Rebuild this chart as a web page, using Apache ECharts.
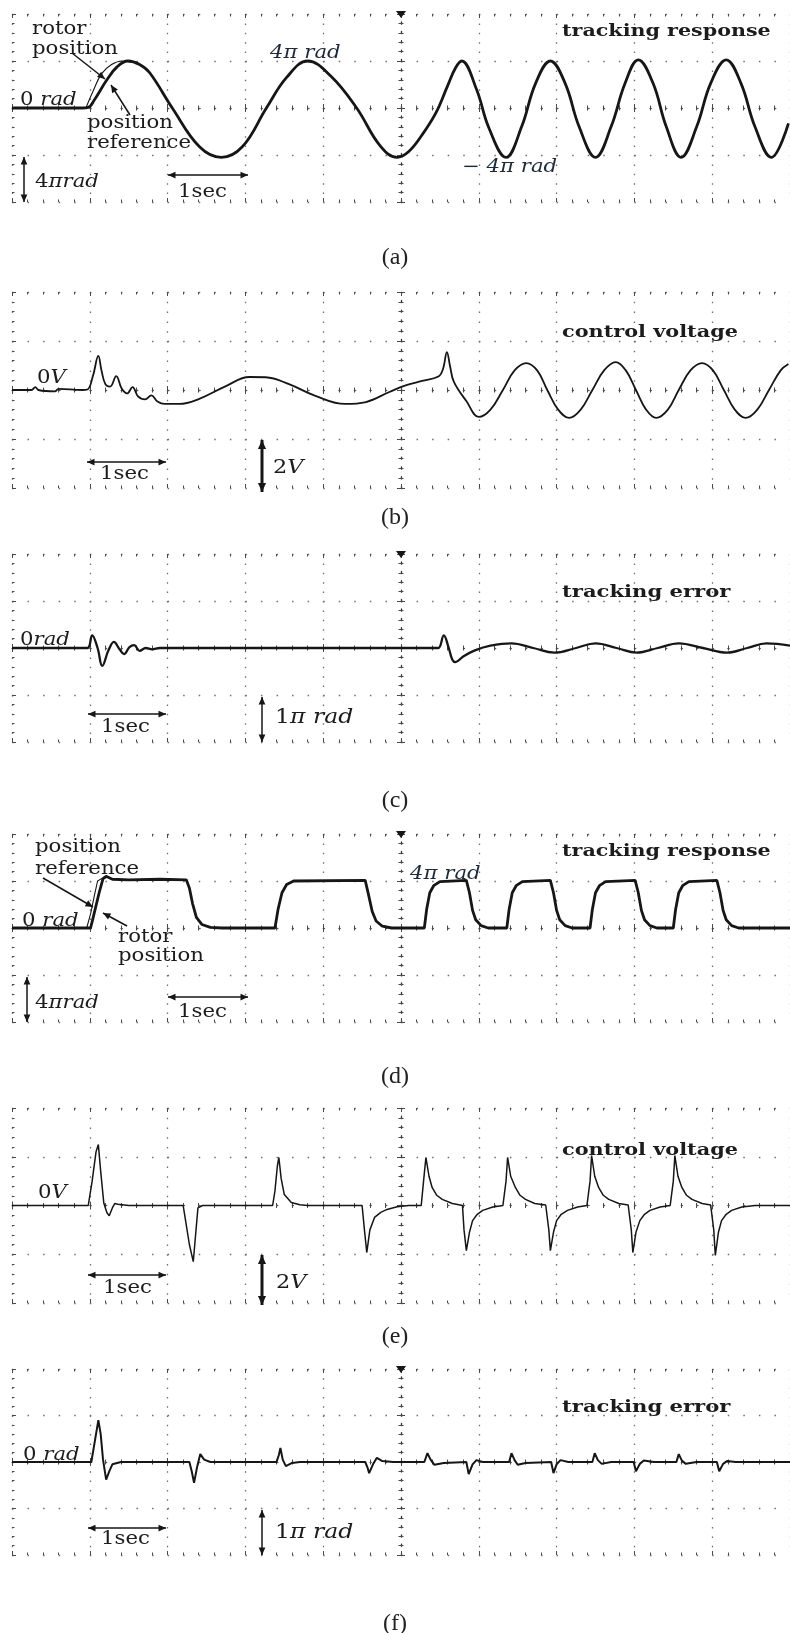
<!DOCTYPE html>
<html lang="en">
<head>
    <meta charset="UTF-8">
    <title>tracking response / control voltage / tracking error</title>
    <style>
        html, body { margin: 0; padding: 0; background: #fff; }
        #scope { width: 790px; height: 1633px; }
    </style>
</head>
<body>
<div id="scope"></div>
<script src="https://cdn.jsdelivr.net/npm/echarts@6.0.0/dist/echarts.min.js"></script>
<script>
    // time in sec measured from the screen centre, 1 sec / division
    var timeTicks = [-5, -4, -3, -2, -1, 0, 1, 2, 3, 4, 5];

    // vertical full scale (+/-) of each trace, 2 divisions each side
    var fullScale = {pos: 8, volt: 4, err: 2};   // pi rad, V, pi rad

    // (a) sinusoidal reference - rotor position [sec, pi rad]
    var sineRotor = [[-5, 0], [-4.3, 0], [-4.1, 0], [-4.02, 0.05], [-3.94, 0.7], [-3.78, 2.4], [-3.65, 3.5], [-3.51, 4.0],
        [-3.36, 3.7], [-3.23, 3.0], [-2.94, 0], [-2.59, -3.3], [-2.31, -4.2], [-2.04, -3.3], [-1.73, 0], [-1.47, 2.6],
        [-1.2, 4.0], [-0.9, 2.7], [-0.57, 0], [-0.27, -3.2], [-0.05, -4.2], [0.1, -3.7], [0.27, -2.3], [0.45, -0.4],
        [0.6, 1.9], [0.7, 3.4], [0.78, 4.0], [0.97, 1.6], [1.13, -1.7], [1.35, -4.2], [1.55, -1.6], [1.73, 2.1], [1.92, 4.0],
        [2.11, 2.1], [2.29, -1.6], [2.5, -4.2], [2.7, -1.6], [2.88, 2.1], [3.05, 4.1], [3.24, 2.1], [3.41, -1.6],
        [3.6, -4.2], [3.8, -1.6], [3.98, 2.1], [4.18, 4.1], [4.37, 2.1], [4.55, -1.6], [4.76, -4.2], [4.98, -1.3]];
    // (a) position reference, only visible where it leaves the rotor trace
    var sineRef = [[-4.05, 0], [-3.96, 1.4], [-3.85, 2.9], [-3.72, 3.7], [-3.58, 4.0], [-3.47, 3.9]];

    // (b) control voltage [sec, V]
    var sineVoltage = [[-5, 0], [-4.75, 0], [-4.7, 0.12], [-4.66, 0], [-4.45, -0.06], [-4.4, 0.05], [-4.1, 0], [-4.03, 0.02],
        [-3.96, 0.57], [-3.89, 1.39], [-3.85, 0.8], [-3.8, 0.24], [-3.74, 0.14], [-3.66, 0.57], [-3.59, 0.06], [-3.52, -0.14],
        [-3.45, 0.12], [-3.38, -0.26], [-3.29, -0.38], [-3.21, -0.22], [-3.13, -0.47], [-3.04, -0.57], [-2.85, -0.57],
        [-2.6, -0.37], [-2.25, 0.16], [-1.95, 0.53], [-1.74, 0.52], [-1.44, 0.24], [-1.1, -0.24], [-0.72, -0.57],
        [-0.45, -0.49], [-0.15, -0.08], [0.05, 0.18], [0.27, 0.37], [0.48, 0.55], [0.54, 0.86], [0.59, 1.55], [0.63, 0.98],
        [0.68, 0.33], [0.84, -0.45], [1.0, -1.1], [1.15, -0.8], [1.31, 0], [1.46, 0.8], [1.61, 1.1], [1.75, 0.8], [1.88, 0],
        [2.02, -0.8], [2.16, -1.14], [2.31, -0.8], [2.46, 0], [2.61, 0.8], [2.76, 1.14], [2.89, 0.8], [3.02, 0],
        [3.15, -0.8], [3.28, -1.14], [3.43, -0.8], [3.57, 0], [3.72, 0.8], [3.87, 1.1], [4.01, 0.8], [4.15, 0],
        [4.29, -0.8], [4.43, -1.14], [4.58, -0.8], [4.73, 0], [4.88, 0.8], [4.98, 1.06]];

    // (c) tracking error [sec, pi rad]
    var sineError = [[-5, 0], [-4.2, 0], [-4.03, 0], [-3.97, 0.27], [-3.9, 0], [-3.84, -0.38], [-3.76, -0.05], [-3.69, 0.13],
        [-3.62, -0.02], [-3.56, -0.13], [-3.49, 0.02], [-3.43, 0.06], [-3.36, -0.06], [-3.28, 0], [-3.2, -0.03], [-3.1, 0],
        [0.4, 0], [0.48, 0], [0.55, 0.27], [0.61, 0.02], [0.66, -0.25], [0.7, -0.3], [0.8, -0.18], [0.95, -0.05],
        [1.15, 0.05], [1.42, 0.1], [1.7, 0], [1.97, -0.1], [2.25, 0], [2.5, 0.1], [2.77, 0], [3.03, -0.1], [3.3, 0],
        [3.57, 0.1], [3.88, 0], [4.19, -0.1], [4.45, 0], [4.7, 0.1], [5, 0.05]];

    // (d) square reference - rotor position [sec, pi rad]
    var squareRotor = [[-5, 0], [-3.99, 0], [-3.96, 0.8], [-3.88, 3.0], [-3.83, 4.2], [-3.79, 4.4], [-3.71, 4.15], [-3.5, 4.1],
        [-3.1, 4.15], [-2.76, 4.1], [-2.72, 3.4], [-2.68, 2.1], [-2.63, 0.9], [-2.56, 0.3], [-2.45, 0.05], [-2.3, 0],
        [-1.62, 0], [-1.58, 1.6], [-1.53, 3.0], [-1.47, 3.7], [-1.38, 4.0], [-0.46, 4.05], [-0.42, 2.9], [-0.37, 1.4],
        [-0.32, 0.6], [-0.24, 0.15], [-0.12, 0], [0.3, 0], [0.33, 1.6], [0.37, 3.0], [0.42, 3.6], [0.5, 3.95], [0.84, 4.05],
        [0.88, 3.0], [0.92, 1.5], [0.96, 0.7], [1.03, 0.2], [1.12, 0], [1.36, 0], [1.39, 1.6], [1.43, 3.0], [1.48, 3.6],
        [1.56, 3.95], [1.92, 4.05], [1.96, 3.0], [2.0, 1.5], [2.04, 0.7], [2.11, 0.2], [2.2, 0], [2.43, 0], [2.46, 1.6],
        [2.5, 3.0], [2.55, 3.6], [2.63, 3.95], [3.01, 4.05], [3.05, 3.0], [3.09, 1.5], [3.13, 0.7], [3.2, 0.2], [3.29, 0],
        [3.5, 0], [3.53, 1.6], [3.57, 3.0], [3.62, 3.6], [3.7, 3.95], [4.06, 4.05], [4.1, 3.0], [4.14, 1.5], [4.18, 0.7],
        [4.25, 0.2], [4.34, 0], [5, 0]];
    var squareRef = [[-4.04, 0], [-3.99, 1.2], [-3.94, 2.8], [-3.9, 4.0], [-3.85, 4.2], [-3.78, 4.3]];

    // (e) control voltage [sec, V]
    var squareVoltage = [[-5, 0], [-4.02, 0], [-3.97, 1.0], [-3.92, 2.2], [-3.89, 2.5], [-3.86, 1.4], [-3.82, 0.1],
        [-3.78, -0.3], [-3.75, -0.42], [-3.71, -0.1], [-3.68, 0.08], [-3.64, 0.05], [-3.5, 0],
        [-2.8, 0], [-2.77, -0.6], [-2.72, -1.6], [-2.67, -2.3], [-2.64, -1.2], [-2.61, -0.1], [-2.55, 0],
        [-1.65, 0], [-1.62, 0.6], [-1.59, 1.6], [-1.57, 1.97], [-1.54, 1.1], [-1.5, 0.45], [-1.41, 0.12], [-1.3, 0.03], [-1.2, 0],
        [-0.5, 0], [-0.47, -1.0], [-0.44, -1.93], [-0.4, -1.0], [-0.34, -0.49], [-0.26, -0.28], [-0.18, -0.16], [-0.05, -0.05], [0.1, 0],
        [0.26, 0], [0.29, 1.0], [0.32, 1.97], [0.36, 1.2], [0.4, 0.74], [0.46, 0.42], [0.53, 0.25], [0.66, 0.08], [0.76, 0.02],
        [0.79, 0], [0.81, -1.0], [0.84, -1.85], [0.88, -1.1], [0.92, -0.62], [0.98, -0.36], [1.05, -0.2], [1.18, -0.06], [1.31, 0],
        [1.33, 0], [1.35, 1.0], [1.37, 1.97], [1.41, 1.2], [1.47, 0.74], [1.53, 0.42], [1.6, 0.25], [1.72, 0.08], [1.86, 0.02],
        [1.88, 0], [1.9, -1.0], [1.92, -1.85], [1.96, -1.1], [2.0, -0.62], [2.06, -0.36], [2.14, -0.2], [2.27, -0.06], [2.39, 0],
        [2.41, 0], [2.43, 1.0], [2.45, 2.05], [2.49, 1.2], [2.54, 0.74], [2.6, 0.42], [2.67, 0.25], [2.8, 0.08], [2.92, 0.02],
        [2.94, 0], [2.96, -1.0], [2.98, -1.93], [3.02, -1.1], [3.07, -0.62], [3.13, -0.36], [3.2, -0.2], [3.33, -0.06], [3.46, 0],
        [3.48, 0], [3.5, 1.0], [3.52, 2.05], [3.56, 1.2], [3.61, 0.74], [3.67, 0.42], [3.74, 0.25], [3.87, 0.08], [3.98, 0.02],
        [4.0, 0], [4.02, -1.0], [4.04, -2.05], [4.08, -1.1], [4.12, -0.62], [4.18, -0.36], [4.25, -0.2], [4.38, -0.06], [4.55, 0],
        [5, 0]];

    // (f) tracking error [sec, pi rad]
    var squareError = [[-5, 0], [-3.98, 0], [-3.94, 0.4], [-3.89, 0.9], [-3.86, 0.6], [-3.83, 0.05], [-3.79, -0.38],
        [-3.75, -0.2], [-3.71, -0.05], [-3.6, 0],
        [-2.72, 0], [-2.69, -0.2], [-2.66, -0.45], [-2.62, -0.1], [-2.58, 0.17], [-2.53, 0.05], [-2.45, 0],
        [-1.6, 0], [-1.57, 0.15], [-1.55, 0.3], [-1.52, 0.05], [-1.48, -0.09], [-1.4, -0.02], [-1.3, 0],
        [-0.46, 0], [-0.43, -0.12], [-0.41, -0.24], [-0.36, -0.05], [-0.31, 0.09], [-0.24, 0.02], [-0.1, 0],
        [0.3, 0], [0.34, 0.19], [0.38, 0.05], [0.43, -0.06], [0.55, -0.02],
        [0.84, 0], [0.87, -0.26], [0.92, -0.05], [0.97, 0.04], [1.05, 0],
        [1.39, 0], [1.42, 0.19], [1.46, 0.04], [1.5, -0.06], [1.6, -0.02],
        [1.93, 0], [1.96, -0.24], [2.0, -0.05], [2.05, 0.04], [2.15, 0],
        [2.46, 0], [2.49, 0.19], [2.53, 0.04], [2.58, -0.04], [2.7, 0],
        [2.99, 0], [3.02, -0.2], [3.07, -0.04], [3.12, 0.03], [3.25, 0],
        [3.54, 0], [3.57, 0.17], [3.61, 0.03], [3.66, -0.04], [3.8, 0],
        [4.06, 0], [4.09, -0.2], [4.14, -0.04], [4.19, 0.02], [4.3, 0], [5, 0]];

    var panels = [
        {name: '(a)', top: 14, height: 188, range: fullScale.pos, traces: [[sineRotor, 2.8], [sineRef, 1.1]], smooth: 0.4, trigger: true, labelY: 258},
        {name: '(b)', top: 292, height: 196, range: fullScale.volt, traces: [[sineVoltage, 1.8]], smooth: 0.4, trigger: false, labelY: 518},
        {name: '(c)', top: 554, height: 188, range: fullScale.err, traces: [[sineError, 2.3]], smooth: 0.4, trigger: true, labelY: 801},
        {name: '(d)', top: 834, height: 188, range: fullScale.pos, traces: [[squareRotor, 2.8], [squareRef, 1.1]], smooth: false, trigger: true, labelY: 1077},
        {name: '(e)', top: 1108, height: 195, range: fullScale.volt, traces: [[squareVoltage, 1.5]], smooth: false, trigger: false, labelY: 1337},
        {name: '(f)', top: 1369, height: 186, range: fullScale.err, traces: [[squareError, 2.0]], smooth: false, trigger: true, labelY: 1624}
    ];

    var LEFT = 12, WIDTH = 778;
    var ink = '#161616', dotGrey = '#6e6e6e', tickGrey = '#4a4a4a';
    var serif = '"DejaVu Serif", "Liberation Serif", serif';

    function baseAxis(gridIndex, min, max, interval, position) {
        return {
            type: 'value', gridIndex: gridIndex, min: min, max: max, interval: interval, position: position,
            silent: true,
            axisLabel: {show: false},
            splitLine: {show: false},
            axisLine: {show: false, onZero: false},
            axisTick: {show: true, inside: true, length: 4, lineStyle: {color: tickGrey, width: 1}},
            minorTick: {show: true, splitNumber: 5, length: 2.5, lineStyle: {color: tickGrey, width: 1}}
        };
    }

    // arrow heads and text are annotation, placed in pixels
    function head(x1, y1, x2, y2, size) {
        var a = Math.atan2(y2 - y1, x2 - x1);
        var bx = x2 - size * Math.cos(a), by = y2 - size * Math.sin(a);
        var w = size * 0.45;
        return {
            type: 'polygon', silent: true, z: 20,
            shape: {points: [[x2, y2], [bx + w * Math.sin(a), by - w * Math.cos(a)], [bx - w * Math.sin(a), by + w * Math.cos(a)]]},
            style: {fill: ink}
        };
    }

    function arrow(x1, y1, x2, y2, both, lw) {
        lw = lw || 1.5;
        var out = [{type: 'line', silent: true, z: 20, shape: {x1: x1, y1: y1, x2: x2, y2: y2}, style: {stroke: ink, lineWidth: lw}}];
        out.push(head(x1, y1, x2, y2, 6 + lw));
        if (both) out.push(head(x2, y2, x1, y1, 6 + lw));
        return out;
    }

    function label(x, y, text, size, opts) {
        opts = opts || {};
        size = size || 18;
        return {
            type: 'text', x: x, y: y, scaleX: opts.sx || 1.18, silent: true, z: 20,
            style: {
                text: text, fontFamily: serif, fontSize: size,
                fontWeight: opts.bold ? 'bold' : 'normal',
                fontStyle: opts.italic ? 'italic' : 'normal',
                fill: opts.color || '#1c1c1c', align: 'left', verticalAlign: 'middle',
                rich: {i: {fontFamily: serif, fontSize: size, fontStyle: 'italic', fill: opts.color || '#1c1c1c'}}
            }
        };
    }

    var grids = [], xAxes = [], yAxes = [], series = [], graphics = [];

    panels.forEach(function (p, i) {
        var xi = xAxes.length, yi = yAxes.length;
        var dx = WIDTH / 50, dy = p.height / 20;
        var tMin = timeTicks[0], tMax = timeTicks[timeTicks.length - 1], tStep = timeTicks[1] - timeTicks[0];

        grids.push({left: LEFT, width: WIDTH, top: p.top, height: p.height});

        // centre horizontal axis (ticks up / down) + edge ticks
        var xa = baseAxis(i, tMin, tMax, tStep, 'bottom');
        xa.axisLine = {show: true, onZero: true, onZeroAxisIndex: yi, lineStyle: {color: '#555', width: 1, type: [1.5, dx - 1.5]}};
        xa.splitLine = {show: true, lineStyle: {color: dotGrey, width: 1.3, type: [1.5, dy - 1.5]}};
        var xb = baseAxis(i, tMin, tMax, tStep, 'top');
        xb.axisLine = {show: false, onZero: true, onZeroAxisIndex: yi + 1};
        var xc = baseAxis(i, tMin, tMax, tStep, 'bottom');
        var xd = baseAxis(i, tMin, tMax, tStep, 'top');
        xAxes.push(xa, xb, xc, xd);

        // centre vertical axis (ticks both sides) + left edge ticks
        var ya = baseAxis(i, -p.range, p.range, p.range / 2, 'left');
        ya.axisLine = {show: true, onZero: true, onZeroAxisIndex: xi, lineStyle: {color: '#333', width: 1.3, type: [1.5, dy - 1.5]}};
        ya.splitLine = {show: true, lineStyle: {color: dotGrey, width: 1.3, type: [1.5, dx - 1.5]}};
        var yb = baseAxis(i, -p.range, p.range, p.range / 2, 'right');
        yb.axisLine = {show: false, onZero: true, onZeroAxisIndex: xi + 1};
        var yc = baseAxis(i, -p.range, p.range, p.range / 2, 'left');
        yAxes.push(ya, yb, yc);

        p.traces.forEach(function (tr) {
            series.push({
                type: 'line', xAxisIndex: xi, yAxisIndex: yi, data: tr[0],
                showSymbol: false, symbol: 'none', smooth: p.smooth, silent: true, z: 5,
                lineStyle: {color: ink, width: tr[1]}
            });
        });

        if (p.trigger) {
            graphics.push({type: 'polygon', silent: true, z: 20,
                shape: {points: [[LEFT + WIDTH / 2 - 5, p.top - 3], [LEFT + WIDTH / 2 + 5, p.top - 3], [LEFT + WIDTH / 2, p.top + 4]]},
                style: {fill: ink}});
        }
        graphics.push({type: 'text', x: 395, y: p.labelY, silent: true,
            style: {text: p.name, fontFamily: '"Liberation Serif", serif', fontSize: 24, fill: '#222', align: 'center', verticalAlign: 'middle'}});
    });

    var notes = [
        // (a)
        label(32, 29, 'rotor'), label(32, 49, 'position'),
        label(87, 123, 'position'), label(87, 143, 'reference'),
        label(20, 100, '0 {i|rad}'),
        label(270, 53, '4π rad', 18, {italic: true, color: '#1d2a3a'}),
        label(462, 167, '− 4π rad', 18, {italic: true, color: '#1d2a3a'}),
        label(35, 182, '4{i|πrad}'),
        label(178, 192, '1sec'),
        label(562, 32, 'tracking response', 16, {bold: true, sx: 1.29}),
        // (b)
        label(37, 378, '0{i|V}'),
        label(562, 333, 'control voltage', 16, {bold: true, sx: 1.3}),
        label(100, 474, '1sec'),
        label(273, 468, '2{i|V}', 19),
        // (c)
        label(20, 640, '0{i|rad}'),
        label(562, 593, 'tracking error', 16, {bold: true, sx: 1.32}),
        label(101, 727, '1sec'),
        label(275, 718, '1{i|π rad}', 21, {sx: 1.12}),
        // (d)
        label(35, 847, 'position'), label(35, 869, 'reference'),
        label(22, 921, '0 {i|rad}'),
        label(118, 937, 'rotor'), label(118, 956, 'position'),
        label(35, 1003, '4{i|πrad}'),
        label(178, 1012, '1sec'),
        label(562, 852, 'tracking response', 16, {bold: true, sx: 1.29}),
        label(410, 874, '4π rad', 18, {italic: true, color: '#1d2a3a'}),
        // (e)
        label(38, 1193, '0{i|V}'),
        label(562, 1151, 'control voltage', 16, {bold: true, sx: 1.3}),
        label(103, 1288, '1sec'),
        label(276, 1283, '2{i|V}', 19),
        // (f)
        label(23, 1455, '0 {i|rad}'),
        label(562, 1408, 'tracking error', 16, {bold: true, sx: 1.32}),
        label(101, 1539, '1sec'),
        label(275, 1533, '1{i|π rad}', 21, {sx: 1.12})
    ];
    graphics = graphics.concat(notes,
        arrow(72, 53, 105, 79), arrow(130, 115, 111, 85),
        arrow(24, 157, 24, 202, true), arrow(168, 175, 248, 175, true),
        arrow(87, 462, 166, 462, true), arrow(262, 440, 262, 492, true, 3),
        arrow(88, 714, 166, 714, true), arrow(262, 697, 262, 742, true),
        arrow(43, 878, 93, 907), arrow(127, 926, 103, 913),
        arrow(27, 977, 27, 1022, true), arrow(168, 997, 248, 997, true),
        arrow(88, 1275, 166, 1275, true), arrow(262, 1255, 262, 1305, true, 3),
        arrow(88, 1528, 166, 1528, true), arrow(262, 1510, 262, 1555, true));

    var scopeChart = echarts.init(document.getElementById('scope'));
    scopeChart.setOption({
        animation: false,
        backgroundColor: '#fff',
        grid: grids,
        xAxis: xAxes,
        yAxis: yAxes,
        series: series,
        graphic: graphics
    });
</script>
</body>
</html>
